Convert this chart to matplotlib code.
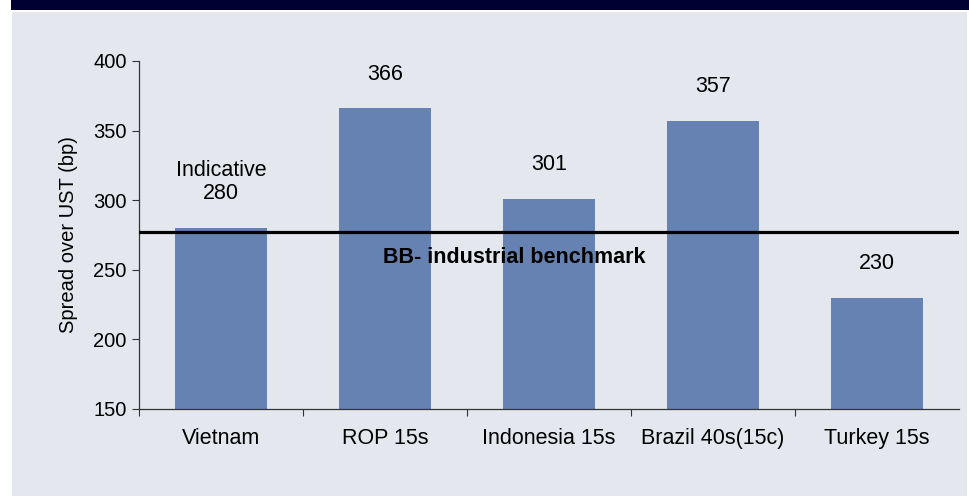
import matplotlib
matplotlib.use('Agg')
import matplotlib.pyplot as plt
from matplotlib.patches import Rectangle

# data
categories = ['Vietnam', 'ROP 15s', 'Indonesia 15s', 'Brazil 40s(15c)', 'Turkey 15s']
spreads = [280, 366, 301, 357, 230]
bar_labels = ['Indicative\n280', '366', '301', '357', '230']
benchmark = 277
benchmark_label = 'BB- industrial benchmark'
y_ticks = [150, 200, 250, 300, 350, 400]

plt.rcParams['font.family'] = ['Liberation Sans', 'DejaVu Sans']

fig = plt.figure(figsize=(9.69, 4.96), dpi=100)
fig.patch.set_facecolor('white')

# navy banner and grey panel (behind the axes)
fig.patches.append(Rectangle((11 / 969, 1 - 9.5 / 496), 1, 9.5 / 496,
                             transform=fig.transFigure, facecolor='#000033',
                             edgecolor='none', zorder=-10))
fig.patches.append(Rectangle((12 / 969, 0), 955 / 969, 1 - 12 / 496,
                             transform=fig.transFigure, facecolor='#E4E8EE',
                             edgecolor='none', zorder=-10))

ax = fig.add_axes([139 / 969, 87 / 496, 820 / 969, 348 / 496])
ax.set_facecolor('none')

x = list(range(len(categories)))
ax.bar(x, spreads, width=0.56, bottom=0, color='#6682B2', zorder=2)
ax.set_ylim(150, 400)
ax.set_xlim(-0.5, len(categories) - 0.5)

for xi, v, lab in zip(x, spreads, bar_labels):
    ax.annotate(lab, (xi, v), xytext=(0, 17), textcoords='offset points',
                ha='center', va='bottom', fontsize=15.5, color='black',
                linespacing=1.15)

ax.axhline(benchmark, color='black', linewidth=2.3, zorder=3)
ax.text(1.79, benchmark - 18.5, benchmark_label, ha='center', va='center',
        fontsize=15.5, fontweight='bold', color='black', zorder=4)

ax.set_yticks(y_ticks)
ax.set_xticks([i + 0.5 for i in x[:-1]] + [-0.5])
ax.set_xticklabels([])
ax.set_xticks(x, minor=True)
ax.set_xticklabels(categories, minor=True)
ax.tick_params(axis='x', which='minor', length=0, pad=14, labelsize=15.5)
ax.tick_params(axis='x', which='major', length=5, direction='out', color='#333333')
ax.tick_params(axis='y', length=5, direction='out', color='#333333', labelsize=14.5, pad=4)

for s in ['top', 'right']:
    ax.spines[s].set_visible(False)
for s in ['left', 'bottom']:
    ax.spines[s].set_color('#333333')
    ax.spines[s].set_linewidth(0.9)

ax.set_ylabel('Spread over UST (bp)', fontsize=14.5, labelpad=11)

fig.savefig('out.png', dpi=100, facecolor=fig.get_facecolor())
